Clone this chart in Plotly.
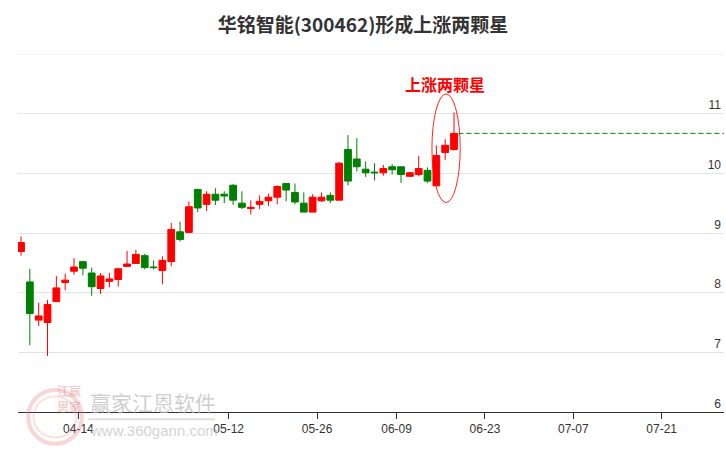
import plotly.graph_objects as go

# ---- data ----
dates = ["04-03", "04-07", "04-08", "04-09", "04-10", "04-11", "04-14", "04-15", "04-16", "04-17",
         "04-18", "04-21", "04-22", "04-23", "04-24", "04-25", "04-28", "04-29", "04-30", "05-06",
         "05-07", "05-08", "05-09", "05-12", "05-13", "05-14", "05-15", "05-16", "05-19", "05-20",
         "05-21", "05-22", "05-23", "05-26", "05-27", "05-28", "05-29", "05-30", "06-03", "06-04",
         "06-05", "06-06", "06-09", "06-10", "06-11", "06-12", "06-13", "06-16", "06-17", "06-18"]
opens = [8.69, 8.18, 7.54, 7.50, 7.85, 8.17, 8.36, 8.52, 8.33, 8.07,
         8.19, 8.22, 8.44, 8.49, 8.62, 8.43, 8.37, 8.52, 9.02, 9.01,
         9.73, 9.48, 9.65, 9.65, 9.80, 9.50, 9.41, 9.48, 9.54, 9.60,
         9.83, 9.68, 9.50, 9.35, 9.54, 9.63, 9.55, 10.40, 10.24, 10.07,
         10.02, 10.01, 10.11, 10.11, 9.95, 9.98, 10.05, 9.79, 10.35, 10.40]
highs = [8.94, 8.40, 7.83, 7.88, 8.28, 8.32, 8.58, 8.52, 8.42, 8.33,
         8.33, 8.42, 8.70, 8.72, 8.65, 8.54, 8.61, 9.17, 9.19, 9.53,
         9.73, 9.70, 9.75, 9.70, 9.82, 9.70, 9.55, 9.63, 9.66, 9.80,
         9.83, 9.83, 9.68, 9.65, 9.68, 9.68, 10.19, 10.64, 10.59, 10.20,
         10.17, 10.14, 10.15, 10.11, 10.02, 10.29, 10.10, 10.47, 10.57, 11.02]
lows = [8.62, 7.12, 7.44, 6.94, 7.85, 8.04, 8.30, 8.29, 7.95, 7.98,
        8.09, 8.10, 8.44, 8.49, 8.39, 8.39, 8.14, 8.44, 8.86, 9.01,
        9.35, 9.37, 9.47, 9.50, 9.47, 9.40, 9.31, 9.40, 9.45, 9.48,
        9.53, 9.48, 9.35, 9.35, 9.52, 9.50, 9.55, 9.80, 10.03, 9.94,
        9.88, 9.96, 9.98, 9.84, 9.94, 9.95, 9.84, 9.79, 10.22, 10.38]
closes = [8.84, 7.65, 7.61, 7.80, 8.08, 8.21, 8.43, 8.41, 8.10, 8.28,
          8.23, 8.40, 8.48, 8.64, 8.42, 8.42, 8.54, 9.06, 8.89, 9.44,
          9.42, 9.65, 9.55, 9.62, 9.55, 9.43, 9.43, 9.53, 9.60, 9.78,
          9.72, 9.52, 9.35, 9.60, 9.60, 9.55, 10.17, 9.87, 10.11, 10.01,
          10.01, 10.08, 10.06, 9.98, 10.01, 10.08, 9.87, 10.30, 10.47, 10.67]

# full trading calendar used for the category axis (incl. future days)
calendar = dates + ["06-19", "06-20", "06-23", "06-24", "06-25", "06-26", "06-27", "06-30",
                    "07-01", "07-02", "07-03", "07-04", "07-07", "07-08", "07-09", "07-10",
                    "07-11", "07-14", "07-15", "07-16", "07-17", "07-18", "07-21", "07-22",
                    "07-23", "07-24", "07-25", "07-28", "07-29", "07-30", "07-31"]
tick_labels = ["04-14", "05-12", "05-26", "06-09", "06-23", "07-07", "07-21"]
y_ticks = [6, 7, 8, 9, 10, 11, 12]
title_text = "华铭智能(300462)形成上涨两颗星"
pattern_text = "上涨两颗星"

idx = [calendar.index(d) for d in dates]
n = len(dates)

fig = go.Figure()
fig.add_trace(go.Candlestick(
    x=idx, open=opens, high=highs, low=lows, close=closes,
    increasing=dict(line=dict(color="#ff0000", width=1), fillcolor="#ff0000"),
    decreasing=dict(line=dict(color="#008000", width=1), fillcolor="#008000"),
    whiskerwidth=0, showlegend=False, hoverinfo="skip",
))

x_max = 79.55
# top gridline (12)
fig.add_shape(type="line", xref="paper", yref="y", x0=0, x1=1, y0=max(y_ticks), y1=max(y_ticks),
              line=dict(color="#e3e3e3", width=1), layer="below")
# last close dashed line
fig.add_shape(type="line", xref="x", yref="y", x0=idx[-1] + 0.5, x1=x_max,
              y0=closes[-1], y1=closes[-1], line=dict(color="#008000", width=1, dash="5px,3px"))
# ellipse around the last three candles
e_x0 = idx[-3] - 0.5
e_x1 = idx[-1] + 0.7
e_y0 = min(lows[-3:]) - 0.28
e_y1 = max(highs[-3:]) + 0.31
fig.add_shape(type="circle", xref="x", yref="y", x0=e_x0, x1=e_x1, y0=e_y0, y1=e_y1,
              line=dict(color="rgba(255,0,0,0.85)", width=1))
fig.add_annotation(xref="x", yref="y", x=idx[-2], y=e_y1 + 0.17, text="<b>" + pattern_text + "</b>",
                   showarrow=False, font=dict(family="Noto Sans CJK SC", size=16, color="#ff0000"))

# watermark
wm = "rgba(190,190,190,0.75)"
fig.add_annotation(xref="paper", yref="paper", x=0.099, y=0.028, xanchor="left", yanchor="middle",
                   text="赢家江恩软件", showarrow=False,
                   font=dict(family="Noto Sans CJK SC", size=21, color=wm))
fig.add_annotation(xref="paper", yref="paper", x=0.099, y=-0.053, xanchor="left", yanchor="middle",
                   text="www.360gann.com", showarrow=False,
                   font=dict(family="Liberation Sans", size=15, color="rgba(200,200,200,0.8)"))
fig.add_shape(type="line", xref="paper", yref="paper", x0=0.099, x1=0.279, y0=-0.02, y1=-0.02,
              line=dict(color="rgba(215,215,215,0.8)", width=2))
fig.add_shape(type="circle", xref="paper", yref="paper", x0=0.0145, x1=0.0905, y0=-0.089, y1=0.0615,
              line=dict(color="rgba(225,120,120,0.3)", width=4))
fig.add_shape(type="circle", xref="paper", yref="paper", x0=0.022, x1=0.083, y0=-0.071, y1=0.0435,
              line=dict(color="rgba(225,120,120,0.22)", width=2))
fig.add_annotation(xref="paper", yref="paper", x=0.0525, y=-0.014, text="<b>江赢<br>恩家</b>",
                   showarrow=False, font=dict(family="Noto Sans CJK SC", size=12,
                                              color="rgba(220,110,110,0.35)"))

tickvals = [calendar.index(t) + 0.5 for t in tick_labels]

fig.update_layout(
    width=726, height=450,
    margin=dict(l=18, r=2, t=54, b=38),
    paper_bgcolor="white", plot_bgcolor="white",
    boxgap=0.1, boxgroupgap=0.15,
    title=dict(text="<b>" + title_text + "</b>", x=0.5, xanchor="center",
               y=1 - 25 / 450, yanchor="middle", yref="container",
               font=dict(family="Noto Sans CJK SC", size=19, color="#333333")),
    xaxis=dict(range=[-0.34, x_max], tickmode="array", tickvals=tickvals, ticktext=tick_labels,
               showgrid=False, zeroline=False, showline=True, linecolor="#333333", linewidth=1,
               ticks="outside", ticklen=6, tickcolor="#333333", tickwidth=1,
               tickfont=dict(family="Liberation Sans", size=12, color="#333333"),
               rangeslider=dict(visible=False), fixedrange=True),
    yaxis=dict(range=[6, 12], side="right", tickmode="array", tickvals=y_ticks,
               ticktext=[str(v) if v < 12 else "" for v in y_ticks],
               ticklabelposition="inside top",
               showgrid=True, gridcolor="#e3e3e3", gridwidth=1,
               zeroline=False, showline=False, ticks="",
               tickfont=dict(family="Liberation Sans", size=12, color="#333333"), fixedrange=True),
    showlegend=False,
)

fig.write_html("out.html", config={"displayModeBar": False},
               post_script="document.body.style.margin='0';document.body.style.overflow='hidden';")
